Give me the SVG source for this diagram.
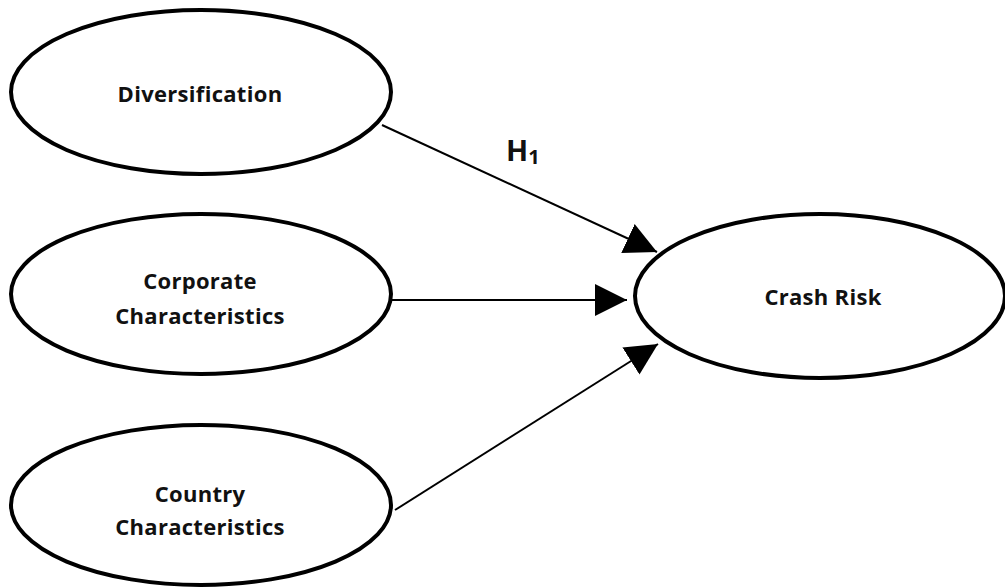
<svg xmlns="http://www.w3.org/2000/svg" width="1005" height="588" viewBox="0 0 1005 588">
<style>
.node{fill:#fff;stroke:#000;stroke-width:4}
.lbl{font-family:"Open Sans","Liberation Sans",sans-serif;font-weight:bold;font-size:22px;letter-spacing:0.3px;fill:#111;text-anchor:middle}
.edge{stroke:#000;stroke-width:2;fill:none}
</style>
<defs>
<marker id="arr" markerUnits="userSpaceOnUse" markerWidth="32" markerHeight="32" refX="32" refY="16" orient="auto" viewBox="0 0 32 32">
<path d="M0,0 L32,16 L0,32 Z" fill="#000"/>
</marker>
</defs>
<rect width="1005" height="588" fill="#fff"/>
<g id="connectors">
<line class="edge" x1="382" y1="125" x2="657" y2="252" marker-end="url(#arr)"/>
<line class="edge" x1="392" y1="300" x2="627" y2="300" marker-end="url(#arr)"/>
<line class="edge" x1="395" y1="510" x2="658" y2="344" marker-end="url(#arr)"/>
<text x="506" y="161" font-family="Open Sans, Liberation Sans, sans-serif" font-weight="bold" font-size="29" fill="#111">H<tspan font-size="20" dy="3">1</tspan></text>
</g>
<g id="diversification">
<ellipse class="node" cx="201" cy="92" rx="190" ry="82"/>
<text class="lbl" x="200" y="102">Diversification</text>
</g>
<g id="corporate">
<ellipse class="node" cx="201" cy="294" rx="190" ry="80"/>
<text class="lbl" x="200" y="289">Corporate</text>
<text class="lbl" x="200" y="324">Characteristics</text>
</g>
<g id="country">
<ellipse class="node" cx="201" cy="505" rx="190" ry="80"/>
<text class="lbl" x="200" y="502">Country</text>
<text class="lbl" x="200" y="535">Characteristics</text>
</g>
<g id="crashrisk">
<ellipse class="node" cx="820" cy="296" rx="185" ry="82"/>
<text class="lbl" x="823" y="305">Crash Risk</text>
</g>
</svg>
